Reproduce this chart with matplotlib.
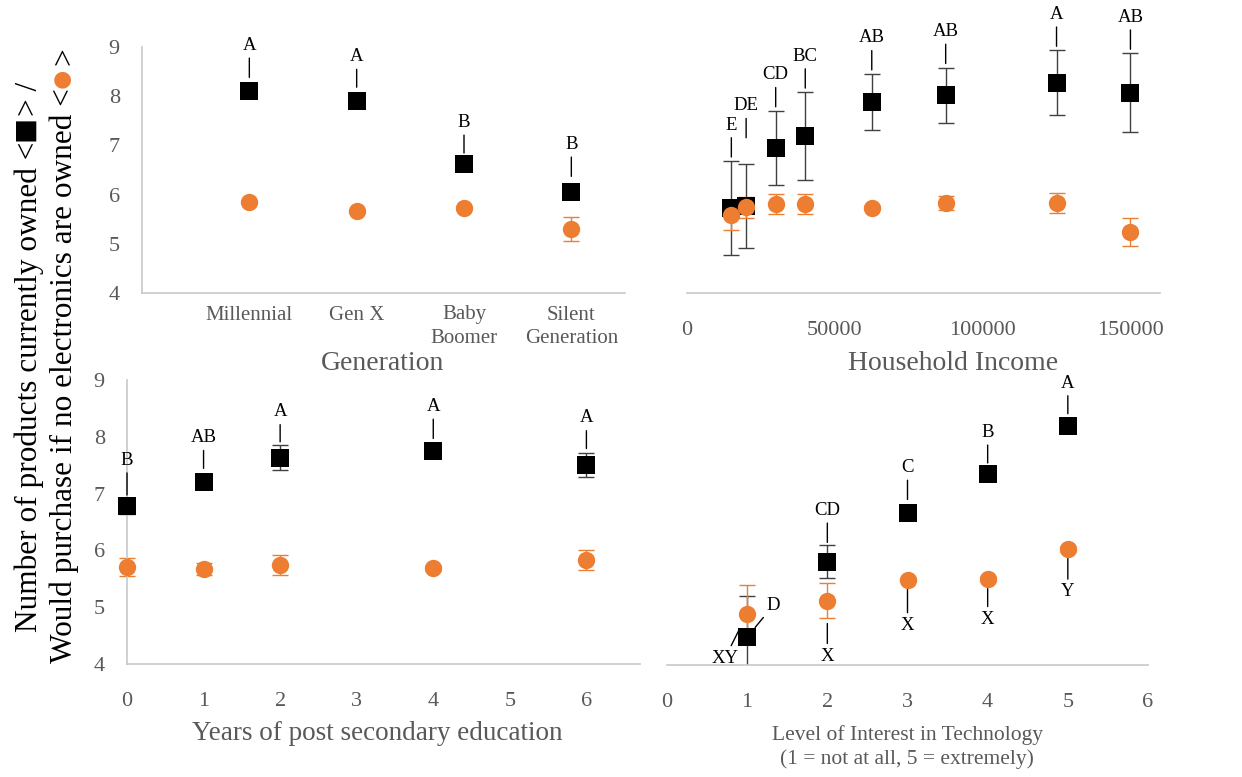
import matplotlib
matplotlib.use('Agg')
import matplotlib.pyplot as plt
from matplotlib.transforms import IdentityTransform

plt.rcParams['font.family'] = ['Liberation Serif', 'DejaVu Serif']

# generation
gen_names = ['Millennial', 'Gen X', 'Baby\nBoomer', 'Silent\nGeneration']
gen_x = [1, 2, 3, 4]
gen_own = [8.10, 7.90, 6.62, 6.06]
gen_own_err = [0.05, 0.04, 0.05, 0.07]
gen_buy = [5.85, 5.67, 5.73, 5.30]
gen_buy_err = [0.04, 0.04, 0.04, 0.24]
gen_tags = ['A', 'A', 'B', 'B']

# household income
inc_x = [15000, 20000, 30000, 40000, 62500, 87500, 125000, 150000]
inc_own = [5.73, 5.77, 6.95, 7.19, 7.88, 8.02, 8.27, 8.07]
inc_own_err = [0.95, 0.85, 0.75, 0.89, 0.57, 0.56, 0.66, 0.80]
inc_buy = [5.58, 5.74, 5.81, 5.81, 5.73, 5.83, 5.83, 5.24]
inc_buy_err = [0.30, 0.22, 0.21, 0.20, 0.05, 0.15, 0.20, 0.28]
inc_tags = ['E', 'DE', 'CD', 'BC', 'AB', 'AB', 'A', 'AB']

# years of post secondary education
edu_x = [0, 1, 2, 4, 6]
edu_own = [6.78, 7.20, 7.63, 7.75, 7.50]
edu_own_err = [0.14, 0.05, 0.22, 0.06, 0.21]
edu_buy = [5.71, 5.67, 5.74, 5.69, 5.83]
edu_buy_err = [0.16, 0.10, 0.18, 0.05, 0.18]
edu_tags = ['B', 'AB', 'A', 'A', 'A']

# interest in technology
tech_x = [1, 2, 3, 4, 5]
tech_own = [4.49, 5.81, 6.66, 7.35, 8.19]
tech_own_err = [0.72, 0.29, 0.05, 0.05, 0.05]
tech_buy = [4.90, 5.13, 5.50, 5.51, 6.04]
tech_buy_err = [0.50, 0.30, 0.05, 0.05, 0.05]
tech_own_tags = ['D', 'CD', 'C', 'B', 'A']
tech_buy_tags = ['XY', 'X', 'X', 'X', 'Y']

ORANGE = '#ED7D31'
GREY = '#595959'
SPINE = '#c8c8c8'
W, H = 1242, 777

fig = plt.figure(figsize=(W / 100, H / 100), dpi=100)


def box(x0, x1, ytop, ybot):
    return [x0 / W, (H - ybot) / H, (x1 - x0) / W, (ybot - ytop) / H]


def style(ax, left_spine):
    for s in ['top', 'right']:
        ax.spines[s].set_visible(False)
    ax.spines['left'].set_visible(left_spine)
    for s in ['left', 'bottom']:
        ax.spines[s].set_color(SPINE)
        ax.spines[s].set_linewidth(1.2)
    ax.set_ylim(4, 9)
    ax.set_yticks(range(4, 10))
    ax.tick_params(length=0, labelsize=16, labelcolor=GREY)
    ax.tick_params(axis='y', pad=16)
    ax.tick_params(axis='x', pad=20)
    if not left_spine:
        ax.set_yticklabels([])


def series(ax, x, own, own_err, buy, buy_err, clip=False):
    # error bars sit below every marker, orange markers on top
    eb = dict(fmt='none', elinewidth=1.0, capsize=6, capthick=1.0)
    parts = [
        ax.errorbar(x, own, yerr=own_err, ecolor='#404040', zorder=2, **eb),
        ax.errorbar(x, buy, yerr=buy_err, ecolor=ORANGE, zorder=2.5, **eb),
    ]
    for cont in parts:
        for art in cont.get_children():
            art.set_clip_on(clip)
    ax.plot(x, own, 's', ms=13.5, color='black', mew=0, zorder=3, clip_on=False)
    ax.plot(x, buy, 'o', ms=12.5, color=ORANGE, mew=0, zorder=4, clip_on=False)


def tag(ax, x, y, text, dy, gap, dx=0):
    ax.annotate(text, xy=(x, y), xytext=(dx, dy), textcoords='offset points',
                ha='center', va='center', fontsize=13.5, color='black',
                annotation_clip=False,
                arrowprops=dict(arrowstyle='-', color='black', lw=1.0,
                                shrinkA=1, shrinkB=gap))


# top left: generation
ax1 = fig.add_axes(box(142, 625, 47, 293))
style(ax1, True)
ax1.set_xlim(0, 4.5)
series(ax1, gen_x, gen_own, gen_own_err, gen_buy, gen_buy_err)
ax1.set_xticks(gen_x)
ax1.set_xticklabels(gen_names, fontsize=15, linespacing=1.35)
ax1.tick_params(axis='x', pad=9)
for x, y, t, dy, g in zip(gen_x, gen_own, gen_tags, [33, 32, 30, 34], [10, 10, 8, 11]):
    tag(ax1, x, y, t, dy, g)

# top right: household income
ax2 = fig.add_axes(box(687, 1160, 47, 293))
style(ax2, False)
ax2.set_xlim(0, 160000)
series(ax2, inc_x, inc_own, inc_own_err, inc_buy, inc_buy_err)
ax2.set_xticks([0, 50000, 100000, 150000])
ax2.set_xticklabels(['0', '50000', '100000', '150000'])
for x, y, e, t in zip(inc_x, inc_own, inc_own_err, inc_tags):
    if t == 'DE':
        tag(ax2, x, y + e, t, 42, 19)
    else:
        tag(ax2, x, y + e, t, 26, 3)

# bottom left: education
ax3 = fig.add_axes(box(127, 640, 380, 664))
style(ax3, True)
ax3.set_xlim(0, 6.7)
ax3.set_xticks(range(0, 7))
series(ax3, edu_x, edu_own, edu_own_err, edu_buy, edu_buy_err)
for x, y, t, dy, g in zip(edu_x, edu_own, edu_tags, [33, 32, 33, 32, 34], [8, 10, 11.5, 9, 12]):
    tag(ax3, x, y, t, dy, g)

# bottom right: interest in technology
ax4 = fig.add_axes(box(667, 1148, 380, 665))
style(ax4, False)
ax4.set_xlim(0, 6)
ax4.set_xticks(range(0, 7))
series(ax4, tech_x, tech_own, tech_own_err, tech_buy, tech_buy_err, clip=True)
own_dy = [23, 37, 33, 30, 31]
own_gap = [9, 14, 10, 8, 9]
buy_dy = [-32, -40, -33, -29, -31]
buy_gap = [14, 16.5, 7, 7, 7]
for i, x in enumerate(tech_x):
    if i == 0:
        tag(ax4, x, tech_own[i], tech_own_tags[i], own_dy[i], own_gap[i], dx=19)
        tag(ax4, x, tech_buy[i], tech_buy_tags[i], buy_dy[i], buy_gap[i], dx=-16)
    else:
        tag(ax4, x, tech_own[i], tech_own_tags[i], own_dy[i], own_gap[i])
        tag(ax4, x, tech_buy[i], tech_buy_tags[i], buy_dy[i], buy_gap[i])

# axis titles
fig.text(383 / W, 1 - 364 / H, 'Generation', ha='center', va='center', fontsize=20, color=GREY)
fig.text(953 / W, 1 - 364 / H, 'Household Income', ha='center', va='center', fontsize=20, color=GREY)
fig.text(377 / W, 1 - 733 / H, 'Years of post secondary education', ha='center', va='center',
         fontsize=19.5, color=GREY)
fig.text(907 / W, 1 - 747 / H, 'Level of Interest in Technology\n(1 = not at all, 5 = extremely)',
         ha='center', va='center', fontsize=15.5, color=GREY, linespacing=1.25)


# shared y title, two rotated lines with coloured marker glyphs
def rotated_line(x_base, y_mid, parts):
    r = fig.canvas.get_renderer()
    texts = [fig.text(0, 0, s, rotation=90, rotation_mode='anchor', ha='left',
                      va='baseline', color=c, fontsize=size, transform=IdentityTransform())
             for s, c, size in parts]
    lens = [t.get_window_extent(r).height for t in texts]
    y = (H - y_mid) - sum(lens) / 2
    for t, l in zip(texts, lens):
        t.set_position((x_base, y))
        y += l


rotated_line(37, 357, [('Number of products currently owned <', 'black', 22.5),
                       ('■', 'black', 30), ('> /', 'black', 22.5)])
rotated_line(72, 355, [('Would purchase if no electronics are owned <', 'black', 22.5),
                       ('●', ORANGE, 28), ('>', 'black', 22.5)])

fig.savefig('out.png', dpi=100)
